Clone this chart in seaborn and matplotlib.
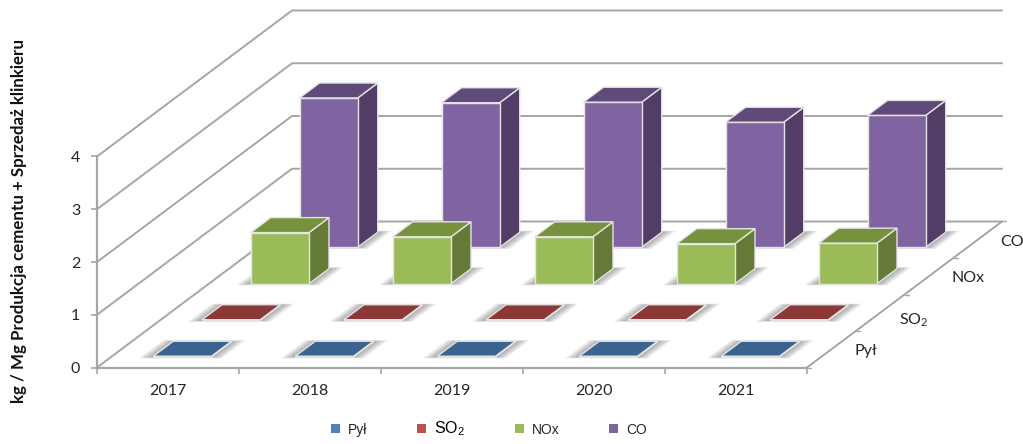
import matplotlib
matplotlib.use("Agg")  # no display here
import matplotlib.pyplot as plt
import seaborn as sns
import pandas as pd
from matplotlib.patches import Polygon
from matplotlib.transforms import Affine2D

# Chart data
years = ["2017", "2018", "2019", "2020", "2021"]
pyl = [0.01, 0.01, 0.01, 0.01, 0.01]
so2 = [0.01, 0.01, 0.01, 0.01, 0.01]
nox = [0.97, 0.89, 0.89, 0.76, 0.77]
co = [2.83, 2.74, 2.75, 2.37, 2.50]
series_names = ["Pył", "SO$_2$", "NOx", "CO"]
depth_labels = ["Pył", "SO$_2$", "NOx", "CO"]
y_ticks = [0, 1, 2, 3, 4]

# Colours: legend/front face, top face, side face
front_colors = ["#4F81BD", "#C0504D", "#9BBB59", "#8064A2"]
top_colors = ["#3B6390", "#8C3836", "#76923C", "#604A7A"]
side_colors = ["#2F4F75", "#702C2A", "#647A36", "#513D66"]
line_color = "#A6A6A6"
edge_color = "#E4E4E4"

sns.set_theme(style="white")
plt.rcParams["font.family"] = ["Lato", "DejaVu Sans"]
plt.rcParams["mathtext.default"] = "regular"

W, H = 1023, 444
fig = plt.figure(figsize=(W / 100, H / 100), dpi=100)
ax = fig.add_axes([97 / W, (H - 367.5) / H, 710 / W, 211 / H])

# Oblique depth: one series slot moves this far right and up (in data units)
DX = 48.75 / 142
DY = 36.5 / 52.75
BAR_W = 0.41
BAR_D = 0.41
N_DEPTH = len(series_names)


def proj(x, y, d):
    return x + d * DX, y + d * DY


def wall_line(pts, lw=1.4):
    xs = [p[0] for p in pts]
    ys = [p[1] for p in pts]
    ax.plot(xs, ys, color=line_color, lw=lw, clip_on=False, zorder=1, solid_capstyle="round")


df = pd.DataFrame({"year": years, "Pył": pyl, "SO2": so2, "NOx": nox, "CO": co})
columns = ["Pył", "SO2", "NOx", "CO"]

# Back wall gridlines and left wall
x_lo, x_hi = -0.5, len(years) - 0.5
for t in y_ticks:
    wall_line([proj(x_lo, t, 0), proj(x_lo, t, N_DEPTH), proj(x_hi, t, N_DEPTH)])
# right edge of the floor
wall_line([proj(x_hi, 0, 0), proj(x_hi, 0, N_DEPTH)])

# Depth axis ticks and labels
for d in range(N_DEPTH + 1):
    x0, y0 = proj(x_hi, 0, d)
    ax.plot([x0, x0 + 0.03], [y0, y0], color=line_color, lw=1, clip_on=False, zorder=1)
for d, label in enumerate(depth_labels):
    xp, yp = proj(x_hi, 0, d + 0.5)
    # the subscript label sits a little lower and closer to the axis
    if "$" in label:
        ax.text(xp + 0.134, yp - 0.23, label, ha="left", va="baseline", fontsize=11.5,
                color="#262626", clip_on=False)
    else:
        ax.text(xp + 0.16, yp - 0.114, label, ha="left", va="baseline", fontsize=11.5,
                color="#262626", clip_on=False)

# Series from back to front so nearer bars cover the ones behind
for d in reversed(range(N_DEPTH)):
    name = columns[d]
    z = 10 + (N_DEPTH - d) * 3
    d_front = d + (1 - BAR_D) / 2
    d_back = d_front + BAR_D

    # soft floor shadow around the bar foot
    for i in range(1, 9):
        sx = 0.011 * i
        sd = 0.016 * i
        foot = []
        for px, pd_ in [(-BAR_W / 2 - sx, d_front - sd * 0.35), (BAR_W / 2 + sx, d_front - sd * 0.35),
                        (BAR_W / 2 + sx, d_back + sd * 0.35), (-BAR_W / 2 - sx, d_back + sd * 0.35)]:
            foot.append(proj(px, 0, pd_))
        for c in range(len(years)):
            pts = [(p[0] + c, p[1]) for p in foot]
            ax.add_patch(Polygon(pts, closed=True, facecolor="#303030", edgecolor="none",
                                 alpha=0.06, clip_on=False, zorder=z - 1))

    # front faces come from seaborn, moved back to their depth slot
    shift = Affine2D().translate(d_front * DX, d_front * DY) + ax.transData
    sns.barplot(data=df, x="year", y=name, order=years, ax=ax, color=front_colors[d], saturation=1,
                width=BAR_W, errorbar=None, edgecolor=edge_color, linewidth=1.0,
                transform=shift, clip_on=False, zorder=z + 1, label=series_names[d])

    # top and side faces
    for c, val in enumerate(df[name]):
        left, right = c - BAR_W / 2, c + BAR_W / 2
        top = [proj(left, val, d_front), proj(right, val, d_front),
               proj(right, val, d_back), proj(left, val, d_back)]
        side = [proj(right, 0, d_front), proj(right, val, d_front),
                proj(right, val, d_back), proj(right, 0, d_back)]
        ax.add_patch(Polygon(side, closed=True, facecolor=side_colors[d], edgecolor=edge_color,
                             lw=1.0, clip_on=False, zorder=z))
        ax.add_patch(Polygon(top, closed=True, facecolor=top_colors[d], edgecolor=edge_color,
                             lw=1.0, clip_on=False, zorder=z + 2))

ax.set_xlim(x_lo, x_hi)
ax.set_ylim(0, 4)
ax.patch.set_alpha(0)
ax.set_xlabel("")
ax.set_ylabel("")

# Axes: labels sit in the middle of each year, ticks on the boundaries
ax.set_xticks(range(len(years)), years)
ax.set_xticks([x_lo + i for i in range(len(years) + 1)], minor=True)
ax.tick_params(axis="x", which="major", length=0, pad=12, labelsize=11.5, labelcolor="#262626")
ax.tick_params(axis="x", which="minor", length=4, width=1.2, color=line_color, bottom=True)
ax.set_yticks(y_ticks)
ax.tick_params(axis="y", length=4, width=1.2, color=line_color, pad=8, labelsize=11.5,
               labelcolor="#262626", left=True)
for side_name in ["top", "right"]:
    ax.spines[side_name].set_visible(False)
for side_name in ["left", "bottom"]:
    ax.spines[side_name].set_color(line_color)
    ax.spines[side_name].set_linewidth(1.6)
    ax.spines[side_name].set_zorder(2)

fig.text(19 / W, 1 - 221 / H, "kg / Mg Produkcja cementu + Sprzedaż klinkieru", rotation=90,
         ha="center", va="center", fontsize=12.2, fontweight="bold", color="#111111")

# Legend in series order
h, l = ax.get_legend_handles_labels()
by_label = dict(zip(l, h))
leg = ax.legend([by_label[n] for n in series_names], series_names, ncol=4, frameon=False,
                loc="center", bbox_to_anchor=(489 / W, 1 - 429 / H), bbox_transform=fig.transFigure,
                handlelength=0.65, handleheight=0.65, handletextpad=0.55, columnspacing=3.6,
                prop={"family": "Liberation Sans", "size": 10})
for i, txt in enumerate(leg.get_texts()):
    txt.set_color("#262626")
    if i == 1:
        txt.set_fontsize(11.5)
        txt.set_color("#000000")
for patch in leg.get_patches():
    patch.set_edgecolor("none")

fig.savefig("out.png", dpi=100, facecolor="white")
